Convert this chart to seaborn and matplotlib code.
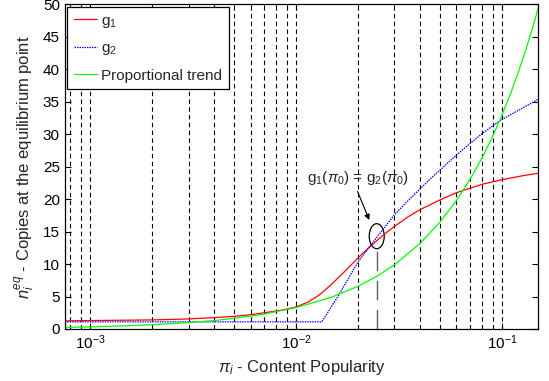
import matplotlib
matplotlib.use('Agg')
import matplotlib.pyplot as plt
import matplotlib.transforms as mtransforms
from matplotlib.patches import Ellipse
import numpy as np
import pandas as pd
import seaborn as sns

# values
g1_x = [7.5e-4, 1e-3, 2e-3, 3e-3, 4e-3, 5e-3, 6e-3, 7e-3, 8.5e-3, 1e-2,
        1.15e-2, 1.3e-2, 1.45e-2, 1.6e-2, 1.8e-2, 2e-2, 2.25e-2, 2.5e-2,
        2.75e-2, 3e-2, 3.5e-2, 4e-2, 5e-2, 6e-2, 7e-2, 8e-2, 1e-1, 1.25e-1,
        1.5e-1]
g1_y = [1.25, 1.3, 1.4, 1.55, 1.75, 1.95, 2.2, 2.5, 2.9, 3.4,
        4.2, 5.3, 6.6, 7.9, 9.5, 11.0, 12.5, 13.8,
        14.9, 15.8, 17.3, 18.4, 19.9, 21.0, 21.7, 22.3, 23.0, 23.6,
        24.0]

g2_x = [7.5e-4, 1e-3, 5e-3, 1e-2, 1.33e-2, 1.6e-2, 2e-2, 2.5e-2, 3e-2,
        3.5e-2, 4e-2, 4.5e-2, 5e-2, 6e-2, 7e-2, 8e-2, 9e-2, 1e-1, 1.25e-1,
        1.5e-1]
g2_y = [1.1, 1.1, 1.1, 1.1, 1.1, 5.1, 10.4, 14.4, 17.6,
        19.8, 21.6, 23.2, 24.5, 26.8, 28.6, 30.1, 31.3, 32.3, 34.0,
        35.4]

prop_x = [7.5e-4, 1e-3, 1.5e-3, 2e-3, 3e-3, 4e-3, 5e-3, 7e-3, 1e-2, 1.5e-2,
          2e-2, 2.5e-2, 3e-2, 4e-2, 5e-2, 6e-2, 7e-2, 8e-2, 9e-2, 1e-1,
          1.1e-1, 1.2e-1, 1.3e-1, 1.4e-1, 1.5e-1]
prop_y = [0.25, 0.33, 0.5, 0.66, 1.0, 1.3, 1.65, 2.3, 3.3, 4.95,
          6.6, 8.25, 9.9, 13.2, 16.5, 19.8, 23.1, 26.4, 29.7, 33.0,
          36.3, 39.6, 42.9, 46.2, 49.5]

pi0 = 0.0246
pi0_y = 14.3
note_x, note_y = 0.0199, 23.3
arrow_tail = (0.0196, 21.6)
arrow_head = (0.0229, 16.4)

sns.set_style('ticks')
plt.rcParams['font.family'] = ['Liberation Sans', 'DejaVu Sans']
plt.rcParams['mathtext.fontset'] = 'custom'
plt.rcParams['mathtext.rm'] = 'Liberation Sans'
plt.rcParams['mathtext.it'] = 'Liberation Sans:italic'

fig = plt.figure(figsize=(5.49, 3.81), dpi=100)
ax = fig.add_axes([0.1179, 0.1365, 0.8627, 0.8517])

sns.lineplot(x=g1_x, y=g1_y, ax=ax, color='#ff0000', linewidth=0.9, label='g$_1$')
sns.lineplot(x=g2_x, y=g2_y, ax=ax, color='#0000ff', linewidth=0.9,
             linestyle=(0, (1.2, 0.8)), label='g$_2$')
sns.lineplot(x=prop_x, y=prop_y, ax=ax, color='#00ff00', linewidth=0.9,
             label='Proportional trend')

ax.set_xscale('log')
ax.set_xlim(7.5e-4, 0.15)
ax.set_ylim(0, 50)
ax.set_yticks(np.arange(0, 51, 5))

ax.grid(True, which='both', axis='x', linestyle=(0, (4, 3)), color='black',
        linewidth=0.8)
ax.grid(False, axis='y')

ax.tick_params(which='both', direction='in', top=True, right=True,
               labelsize=11, colors='black')
ax.tick_params(which='major', length=4)
ax.tick_params(which='minor', length=2)
for s in ax.spines.values():
    s.set_color('black')
    s.set_linewidth(0.9)

# vertical marker at the crossing point
ax.plot([pi0, pi0], [0, pi0_y - 1.8], color='#606060', linewidth=1.0,
        linestyle=(0, (14, 7)))

# ellipse around the crossing, sized in inches
trans = fig.dpi_scale_trans + mtransforms.ScaledTranslation(pi0, pi0_y, ax.transData)
ax.add_patch(Ellipse((0, 0), 0.15, 0.25, transform=trans, fill=False,
                     edgecolor='black', linewidth=0.9))

ax.annotate('', xy=arrow_head, xytext=arrow_tail,
            arrowprops=dict(arrowstyle='-|>', color='black', lw=0.8,
                            mutation_scale=8))
ax.text(note_x, note_y, r'g$_1$($\pi_0$) = g$_2$($\pi_0$)', ha='center',
        va='center', fontsize=11)

ax.set_xlabel(r'$\pi_i$ - Content Popularity', fontsize=12)
ax.set_ylabel(r'$n_i^{eq}$ - Copies at the equilibrium point', fontsize=12,
              labelpad=4)

leg = ax.legend(loc='upper left', fontsize=11, handlelength=1.5,
                fancybox=False, framealpha=1, edgecolor='black',
                borderaxespad=0.15, labelspacing=0.75, handletextpad=0.3,
                borderpad=0.45)
leg.get_frame().set_linewidth(0.9)

fig.savefig('out.png', dpi=100)
